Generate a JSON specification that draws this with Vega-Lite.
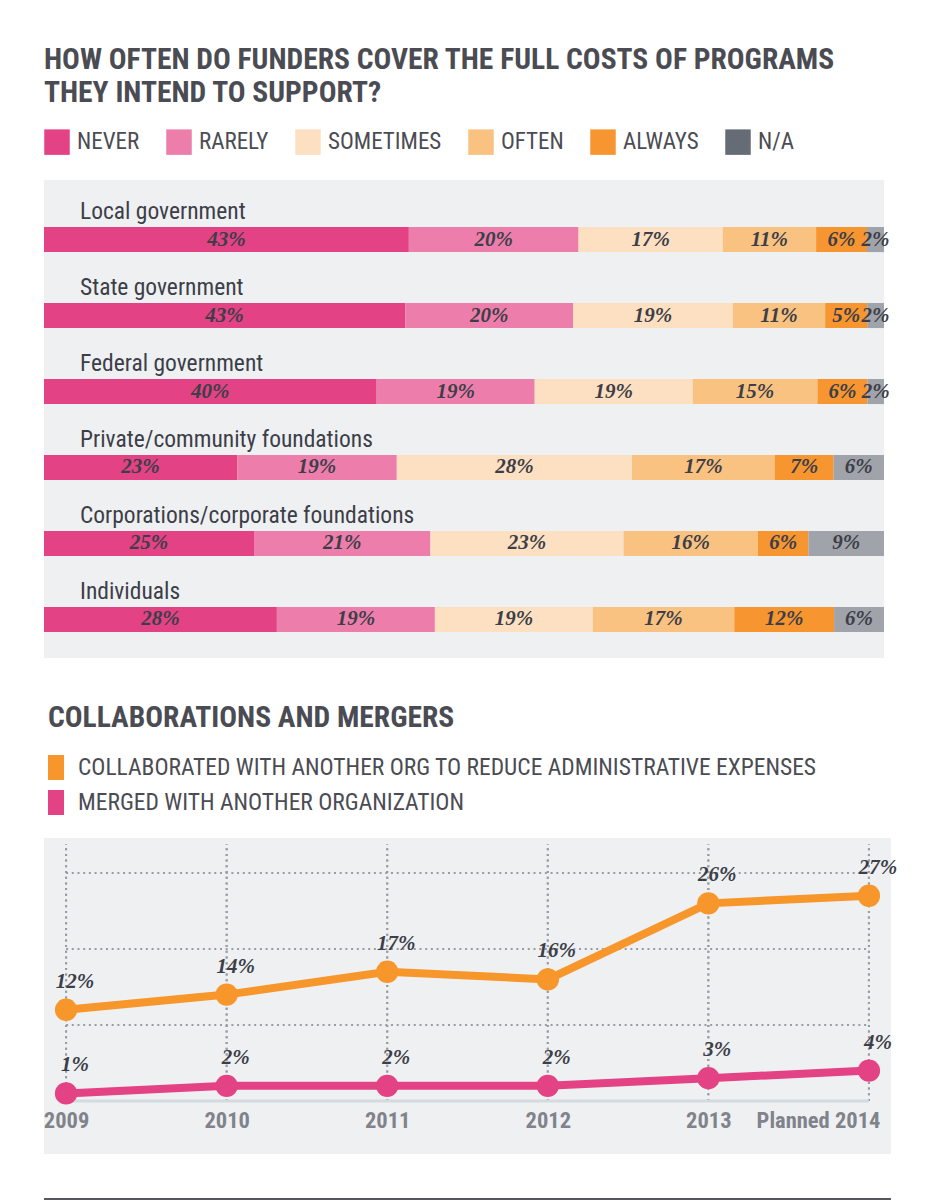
{
  "$schema": "https://vega.github.io/schema/vega-lite/v6.json",
  "background": "white",
  "padding": {"left": 40, "top": 44, "right": 0, "bottom": 0},
  "spacing": 44,
  "config": {
    "view": {"stroke": null},
    "font": "Roboto Condensed, Roboto, sans-serif"
  },
  "resolve": {"scale": {"color": "independent"}, "legend": {"color": "independent"}},
  "vconcat": [
    {
      "title": {
        "text": ["HOW OFTEN DO FUNDERS COVER THE FULL COSTS OF PROGRAMS", "THEY INTEND TO SUPPORT?"],
        "anchor": "start", "frame": "group",
        "font": "Roboto Condensed, Roboto, sans-serif",
        "fontWeight": "bold", "fontSize": 29.5, "lineHeight": 33, "color": "#4b4c53", "offset": 21
      },
      "width": 840,
      "height": 478,
      "view": {"fill": "#eff0f2", "stroke": null},
      "data": {"values": [
        {"funder": "Local government", "resp": "NEVER", "pct": 0.43, "k": 1},
        {"funder": "Local government", "resp": "RARELY", "pct": 0.20, "k": 2},
        {"funder": "Local government", "resp": "SOMETIMES", "pct": 0.17, "k": 3},
        {"funder": "Local government", "resp": "OFTEN", "pct": 0.11, "k": 4},
        {"funder": "Local government", "resp": "ALWAYS", "pct": 0.06, "k": 5},
        {"funder": "Local government", "resp": "N/A", "pct": 0.02, "k": 6},
        {"funder": "State government", "resp": "NEVER", "pct": 0.43, "k": 1},
        {"funder": "State government", "resp": "RARELY", "pct": 0.20, "k": 2},
        {"funder": "State government", "resp": "SOMETIMES", "pct": 0.19, "k": 3},
        {"funder": "State government", "resp": "OFTEN", "pct": 0.11, "k": 4},
        {"funder": "State government", "resp": "ALWAYS", "pct": 0.05, "k": 5},
        {"funder": "State government", "resp": "N/A", "pct": 0.02, "k": 6},
        {"funder": "Federal government", "resp": "NEVER", "pct": 0.40, "k": 1},
        {"funder": "Federal government", "resp": "RARELY", "pct": 0.19, "k": 2},
        {"funder": "Federal government", "resp": "SOMETIMES", "pct": 0.19, "k": 3},
        {"funder": "Federal government", "resp": "OFTEN", "pct": 0.15, "k": 4},
        {"funder": "Federal government", "resp": "ALWAYS", "pct": 0.06, "k": 5},
        {"funder": "Federal government", "resp": "N/A", "pct": 0.02, "k": 6},
        {"funder": "Private/community foundations", "resp": "NEVER", "pct": 0.23, "k": 1},
        {"funder": "Private/community foundations", "resp": "RARELY", "pct": 0.19, "k": 2},
        {"funder": "Private/community foundations", "resp": "SOMETIMES", "pct": 0.28, "k": 3},
        {"funder": "Private/community foundations", "resp": "OFTEN", "pct": 0.17, "k": 4},
        {"funder": "Private/community foundations", "resp": "ALWAYS", "pct": 0.07, "k": 5},
        {"funder": "Private/community foundations", "resp": "N/A", "pct": 0.06, "k": 6},
        {"funder": "Corporations/corporate foundations", "resp": "NEVER", "pct": 0.25, "k": 1},
        {"funder": "Corporations/corporate foundations", "resp": "RARELY", "pct": 0.21, "k": 2},
        {"funder": "Corporations/corporate foundations", "resp": "SOMETIMES", "pct": 0.23, "k": 3},
        {"funder": "Corporations/corporate foundations", "resp": "OFTEN", "pct": 0.16, "k": 4},
        {"funder": "Corporations/corporate foundations", "resp": "ALWAYS", "pct": 0.06, "k": 5},
        {"funder": "Corporations/corporate foundations", "resp": "N/A", "pct": 0.09, "k": 6},
        {"funder": "Individuals", "resp": "NEVER", "pct": 0.28, "k": 1},
        {"funder": "Individuals", "resp": "RARELY", "pct": 0.19, "k": 2},
        {"funder": "Individuals", "resp": "SOMETIMES", "pct": 0.19, "k": 3},
        {"funder": "Individuals", "resp": "OFTEN", "pct": 0.17, "k": 4},
        {"funder": "Individuals", "resp": "ALWAYS", "pct": 0.12, "k": 5},
        {"funder": "Individuals", "resp": "N/A", "pct": 0.06, "k": 6}
      ]},
      "encoding": {
        "y": {
          "field": "funder", "type": "nominal",
          "sort": ["Local government", "State government", "Federal government", "Private/community foundations", "Corporations/corporate foundations", "Individuals"],
          "scale": {"range": [47, 452], "paddingInner": 0.67, "paddingOuter": 0},
          "axis": {"labels": false, "ticks": false, "domain": false, "grid": false, "title": null, "minExtent": 4, "maxExtent": 4}
        }
      },
      "layer": [
        {
          "mark": {"type": "bar"},
          "encoding": {
            "x": {"field": "pct", "type": "quantitative", "stack": "normalize", "axis": null, "scale": {"nice": false}},
            "order": {"field": "k", "type": "quantitative"},
            "color": {
              "condition": {"test": "datum.resp === 'N/A'", "value": "#a0a3aa"},
              "field": "resp", "type": "nominal",
              "scale": {
                "domain": ["NEVER", "RARELY", "SOMETIMES", "OFTEN", "ALWAYS", "N/A"],
                "range": ["#e34284", "#ed7eab", "#fde0c1", "#fac280", "#f79530", "#666c75"]
              },
              "legend": {
                "title": null, "orient": "top", "direction": "horizontal",
                "symbolType": "square", "symbolSize": 650, "symbolStrokeWidth": 0, "symbolOpacity": 1,
                "labelFont": "Roboto Condensed, Roboto, sans-serif",
                "labelFontSize": 23, "labelColor": "#4b4c53", "labelOffset": 7,
                "columnPadding": 26, "offset": 25, "padding": 0
              }
            }
          }
        },
        {
          "mark": {"type": "text", "font": "Liberation Serif", "fontStyle": "italic", "fontWeight": "bold", "fontSize": 21, "color": "#3c3e48", "baseline": "middle"},
          "encoding": {
            "x": {"field": "pct", "type": "quantitative", "stack": "normalize", "bandPosition": 0.5},
            "order": {"field": "k", "type": "quantitative"},
            "detail": {"field": "resp"},
            "text": {"field": "pct", "type": "quantitative", "format": ".0%"}
          }
        },
        {
          "transform": [{"filter": "datum.k == 1"}],
          "mark": {"type": "text", "align": "left", "baseline": "alphabetic", "dx": 36, "dy": -8, "fontSize": 23.5, "color": "#3c3e48"},
          "encoding": {
            "x": {"datum": 0},
            "y": {"field": "funder", "type": "nominal", "bandPosition": 0},
            "text": {"field": "funder"}
          }
        }
      ]
    },
    {
      "title": {
        "text": "COLLABORATIONS AND MERGERS",
        "anchor": "start", "frame": "group", "dx": 4,
        "font": "Roboto Condensed, Roboto, sans-serif",
        "fontWeight": "bold", "fontSize": 29.5, "color": "#4b4c53", "offset": 18
      },
      "width": 847,
      "height": 316,
      "view": {"fill": "#eff0f2", "stroke": null},
      "data": {"values": [
        {"year": "2009", "series": "COLLABORATED WITH ANOTHER ORG TO REDUCE ADMINISTRATIVE EXPENSES", "value": 0.12},
        {"year": "2010", "series": "COLLABORATED WITH ANOTHER ORG TO REDUCE ADMINISTRATIVE EXPENSES", "value": 0.14},
        {"year": "2011", "series": "COLLABORATED WITH ANOTHER ORG TO REDUCE ADMINISTRATIVE EXPENSES", "value": 0.17},
        {"year": "2012", "series": "COLLABORATED WITH ANOTHER ORG TO REDUCE ADMINISTRATIVE EXPENSES", "value": 0.16},
        {"year": "2013", "series": "COLLABORATED WITH ANOTHER ORG TO REDUCE ADMINISTRATIVE EXPENSES", "value": 0.26},
        {"year": "Planned 2014", "series": "COLLABORATED WITH ANOTHER ORG TO REDUCE ADMINISTRATIVE EXPENSES", "value": 0.27},
        {"year": "2009", "series": "MERGED WITH ANOTHER ORGANIZATION", "value": 0.01},
        {"year": "2010", "series": "MERGED WITH ANOTHER ORGANIZATION", "value": 0.02},
        {"year": "2011", "series": "MERGED WITH ANOTHER ORGANIZATION", "value": 0.02},
        {"year": "2012", "series": "MERGED WITH ANOTHER ORGANIZATION", "value": 0.02},
        {"year": "2013", "series": "MERGED WITH ANOTHER ORGANIZATION", "value": 0.03},
        {"year": "Planned 2014", "series": "MERGED WITH ANOTHER ORGANIZATION", "value": 0.04}
      ]},
      "layer": [
        {
          "mark": {"type": "rule", "strokeDash": [2, 3.7], "color": "#9a9ca2", "strokeWidth": 2},
          "encoding": {
            "x": {"field": "year", "type": "nominal", "sort": ["2009", "2010", "2011", "2012", "2013", "Planned 2014"], "scale": {"type": "point", "padding": 0.1375},
              "axis": {
                "title": null, "labelAngle": 0, "domain": false, "ticks": false, "grid": false,
                "labelFont": "Roboto Condensed, Roboto, sans-serif",
                "labelFontWeight": "bold", "labelFontSize": 22.5, "labelColor": "#80838b",
                "labelPadding": 0, "offset": -45,
                "labelAlign": {"condition": {"test": "datum.label == 'Planned 2014'", "value": "right"}, "value": "center"},
                "labelOffset": {"condition": {"test": "datum.label == 'Planned 2014'", "value": 11}, "value": 0}
              }
            },
            "y": {"datum": 0, "type": "quantitative", "scale": {"domain": [-0.0697, 0.346], "nice": false, "zero": false}, "axis": null},
            "y2": {"datum": 0.338}
          }
        },
        {
          "data": {"values": [{"g": 0.1}, {"g": 0.2}, {"g": 0.3}]},
          "mark": {"type": "rule", "strokeDash": [2, 3.7], "color": "#9a9ca2", "strokeWidth": 2},
          "encoding": {
            "x": {"datum": "2009", "type": "nominal"},
            "x2": {"datum": "Planned 2014"},
            "y": {"field": "g", "type": "quantitative"}
          }
        },
        {
          "data": {"values": [{"g": 0}]},
          "mark": {"type": "rule", "color": "#d3dae0", "strokeWidth": 3},
          "encoding": {
            "x": {"datum": "2009", "type": "nominal"},
            "x2": {"datum": "Planned 2014"},
            "y": {"field": "g", "type": "quantitative"}
          }
        },
        {
          "mark": {"type": "line", "strokeWidth": 8},
          "encoding": {
            "x": {"field": "year", "type": "nominal"},
            "y": {"field": "value", "type": "quantitative"},
            "color": {
              "field": "series", "type": "nominal",
              "scale": {
                "domain": ["COLLABORATED WITH ANOTHER ORG TO REDUCE ADMINISTRATIVE EXPENSES", "MERGED WITH ANOTHER ORGANIZATION"],
                "range": ["#f7962b", "#e34284"]
              },
              "legend": {
                "title": null, "orient": "top", "direction": "vertical",
                "symbolType": "M-1,-1H0.28V1H-1Z", "symbolSize": 625, "symbolStrokeWidth": 0, "symbolOpacity": 1,
                "labelFont": "Roboto Condensed, Roboto, sans-serif",
                "labelFontSize": 23.5, "labelColor": "#4b4c53", "labelOffset": 5, "labelLimit": 900,
                "rowPadding": 10, "offset": 19, "padding": 4
              }
            }
          }
        },
        {
          "mark": {"type": "circle", "size": 500, "opacity": 1},
          "encoding": {
            "x": {"field": "year", "type": "nominal"},
            "y": {"field": "value", "type": "quantitative"},
            "color": {"field": "series", "type": "nominal"}
          }
        },
        {
          "mark": {"type": "text", "font": "Liberation Serif", "fontStyle": "italic", "fontWeight": "bold", "fontSize": 21, "color": "#3c3e48", "baseline": "alphabetic", "dx": 9, "dy": -22},
          "encoding": {
            "x": {"field": "year", "type": "nominal"},
            "y": {"field": "value", "type": "quantitative"},
            "text": {"field": "value", "type": "quantitative", "format": ".0%"}
          }
        },
        {
          "data": {"values": [{"g": -0.129}]},
          "mark": {"type": "rule", "color": "#55575d", "strokeWidth": 2},
          "encoding": {
            "y": {"field": "g", "type": "quantitative"}
          }
        }
      ]
    }
  ]
}
